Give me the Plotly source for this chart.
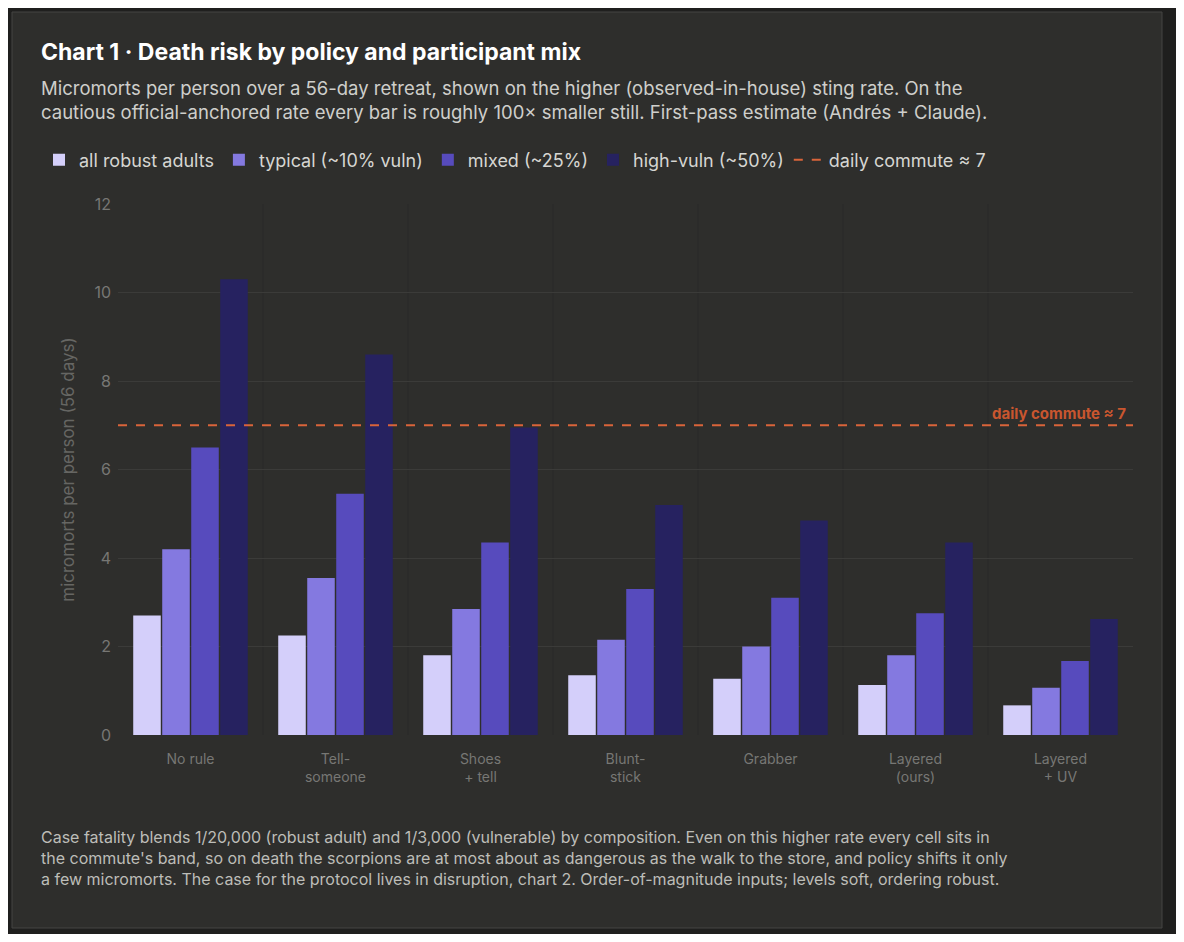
import plotly.graph_objects as go


policies = ['No rule', 'Tell-<br>someone', 'Shoes<br>+ tell', 'Blunt-<br>stick', 'Grabber', 'Layered<br>(ours)', 'Layered<br>+ UV']
robust   = [2.70, 2.25, 1.80, 1.35, 1.27, 1.13, 0.67]
typical  = [4.20, 3.55, 2.85, 2.15, 2.00, 1.80, 1.07]
mixed    = [6.50, 5.45, 4.35, 3.30, 3.10, 2.75, 1.67]
highvuln = [10.30, 8.60, 6.95, 5.20, 4.85, 4.35, 2.62]
commute  = 7




def plot_data_plotly():

    # Create figure
    fig = go.Figure()

    # Bars per participant mix
    fig.add_trace(go.Bar(x=policies, y=robust,   name='all robust adults',   marker_color='#d4cffa'))
    fig.add_trace(go.Bar(x=policies, y=typical,  name='typical (~10% vuln)', marker_color='#8479e0'))
    fig.add_trace(go.Bar(x=policies, y=mixed,    name='mixed (~25%)',        marker_color='#574bbd'))
    fig.add_trace(go.Bar(x=policies, y=highvuln, name='high-vuln (~50%)',    marker_color='#262260'))

    # Legend entry for commute line
    fig.add_trace(go.Scatter(x=[None], y=[None], mode='lines', name=f'daily commute ≈ {commute}',
                             line=dict(color='#d9643a', dash='dash', width=2)))

    # Card background
    fig.add_shape(type='rect', xref='paper', yref='paper', layer='below',
                  x0=-106/1015, x1=(1162-118)/1015, y0=(735-928)/531, y1=(735-12)/531,
                  fillcolor='#2e2e2c', line=dict(color='#444442', width=1))

    # Subtle separators between policies
    for i in range(len(policies) - 1):
        fig.add_vline(x=i + 0.5, line=dict(color='#292928', width=1), layer='below')

    # Commute line
    fig.add_hline(y=commute, line=dict(color='#d9643a', dash='dash', width=2))
    fig.add_annotation(x=0.995, y=commute, xref='paper', yref='y', xanchor='right', yanchor='bottom',
                       text=f'<b>daily commute ≈ {commute}</b>', showarrow=False,
                       font=dict(color='#c9562f', size=15))

    # Title, subtitle and caption
    fig.add_annotation(x=-79/1015, y=(735-52)/531, xref='paper', yref='paper', xanchor='left', yanchor='middle',
                       text='<b>Chart 1 · Death risk by policy and participant mix</b>', showarrow=False,
                       font=dict(color='#ffffff', size=23), align='left')
    fig.add_annotation(x=-79/1015, y=(735-100)/531, xref='paper', yref='paper', xanchor='left', yanchor='middle',
                       text='Micromorts per person over a 56-day retreat, shown on the higher (observed-in-house) sting rate. On the<br>'
                            'cautious official-anchored rate every bar is roughly 100× smaller still. First-pass estimate (Andrés + Claude).',
                       showarrow=False, font=dict(color='#cfcfcb', size=18.5), align='left')
    fig.add_annotation(x=-79/1015, y=(735-858)/531, xref='paper', yref='paper', xanchor='left', yanchor='middle',
                       text='Case fatality blends 1/20,000 (robust adult) and 1/3,000 (vulnerable) by composition. Even on this higher rate every cell sits in<br>'
                            'the commute\'s band, so on death the scorpions are at most about as dangerous as the walk to the store, and policy shifts it only<br>'
                            'a few micromorts. The case for the protocol lives in disruption, chart 2. Order-of-magnitude inputs; levels soft, ordering robust.',
                       showarrow=False, font=dict(color='#bdbdb8', size=16), align='left')

    # Set layout
    fig.update_layout(
        template="none",
        width=1168, height=926,
        margin=dict(l=110, r=43, t=196, b=199),
        paper_bgcolor='#1f1f1e',
        plot_bgcolor='rgba(0,0,0,0)',
        font=dict(family='Inter, Noto Sans, sans-serif', color='#777774'),
        barmode='group', bargap=0.2, bargroupgap=0.05,
        showlegend=True,
        legend=dict(orientation='h', x=-79/1015, y=(735-160)/531, xanchor='left', yanchor='middle',
                    font=dict(color='#d6d6d2', size=18), itemwidth=30, traceorder='normal',
                    bgcolor='rgba(0,0,0,0)'),
    )
    fig.update_xaxes(showgrid=False, tickfont=dict(size=14, color='#777774'),
                     showline=False, ticks='', ticklabelstandoff=14)
    fig.update_yaxes(title_text='micromorts per person (56 days)', range=[0, 12], dtick=2,
                     gridcolor='#3b3b39', zeroline=False, tickfont=dict(size=16, color='#777774'),
                     title_font=dict(size=17, color='#666663'), ticklabelstandoff=6)

    # Save the plot
    fig.write_html("out.html")



if __name__ == '__main__':

    plot_data_plotly()
